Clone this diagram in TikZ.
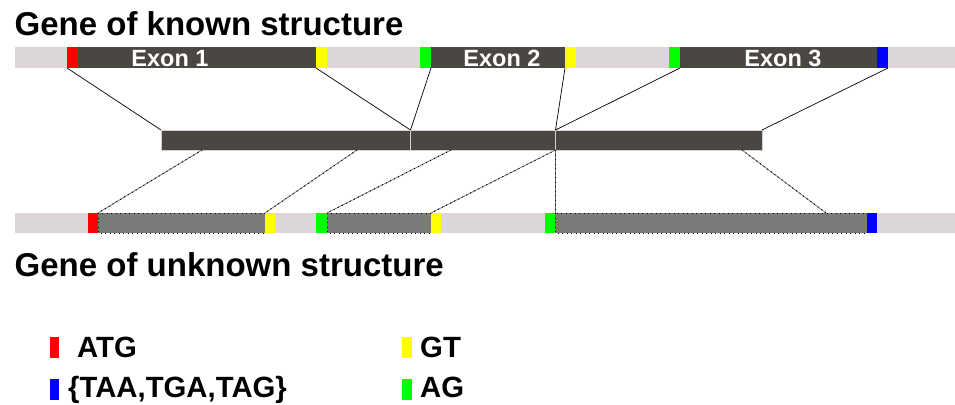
\documentclass[tikz,border=0pt]{standalone}
\usepackage{fontspec}
\setmainfont{Liberation Sans}
\definecolor{introncol}{RGB}{221,214,214}
\definecolor{exondark}{RGB}{74,70,66}
\definecolor{exongray}{RGB}{122,122,122}
\definecolor{atgcol}{RGB}{255,0,0}
\definecolor{gtcol}{RGB}{255,255,0}
\definecolor{agcol}{RGB}{0,255,0}
\definecolor{stopcol}{RGB}{0,0,255}
\tikzset{
  intronbar/.style={fill=introncol},
  knownexon/.style={fill=exondark},
  midexon/.style={fill=exondark, draw=gray!35, line width=0.6pt},
  unkexon/.style={fill=exongray, draw=black, line width=0.8pt, dash pattern=on 1pt off 3.5pt},
  topline/.style={draw=black, line width=0.7pt},
  botline/.style={draw=gray!85!black, line width=0.7pt, postaction={draw=black, line width=1pt, dash pattern=on 1pt off 3.5pt}},
  titletext/.style={anchor=base west, inner sep=0pt, font=\fontsize{33}{38}\selectfont\bfseries},
  exontext/.style={anchor=base, inner sep=0pt, text=white, font=\fontsize{23.5}{28}\selectfont\bfseries},
  legendtext/.style={anchor=base west, inner sep=0pt, font=\fontsize{29.3}{34}\selectfont\bfseries},
}
\begin{document}
\begin{tikzpicture}[x=1pt,y=-1pt]
\useasboundingbox (0,0) rectangle (955,404);
% titles
\node[titletext] (t1) at (14.5,36) {Gene of known structure};
\node[titletext] (t2) at (14.5,276) {Gene of unknown structure};
% top gene
\fill[intronbar] (15,47) rectangle (955,68);
\fill[knownexon] (78,47) rectangle (316,68);
\fill[knownexon] (431,47) rectangle (565,68);
\fill[knownexon] (680,47) rectangle (877,68);
\fill[atgcol] (67,47) rectangle (78,68);
\fill[gtcol] (316,47) rectangle (327,68);
\fill[agcol] (420,47) rectangle (431,68);
\fill[gtcol] (565,47) rectangle (576,68);
\fill[agcol] (669,47) rectangle (680,68);
\fill[stopcol] (877,47) rectangle (888,68);
\node[exontext] (e1) at (170,66.5) {Exon 1};
\node[exontext] (e2) at (502,66.5) {Exon 2};
\node[exontext] (e3) at (783,66.5) {Exon 3};
% middle (protein / mRNA)
\draw[midexon] (161,130) rectangle (410.5,150);
\draw[midexon] (410.5,130) rectangle (555.5,150);
\draw[midexon] (555.5,130) rectangle (762,150);
% bottom gene
\fill[intronbar] (15,213) rectangle (955,233);
\draw[unkexon] (98,213) rectangle (265,233);
\draw[unkexon] (327,213) rectangle (431,233);
\draw[unkexon] (555,213) rectangle (867,233);
\fill[atgcol] (88,213) rectangle (98,233);
\fill[gtcol] (265,213) rectangle (275,233);
\fill[agcol] (316,213) rectangle (327,233);
\fill[gtcol] (431,213) rectangle (441,233);
\fill[agcol] (545,213) rectangle (555,233);
\fill[stopcol] (867,213) rectangle (877,233);
% connector end points
\coordinate (a1) at (67,68);
\coordinate (a2) at (316,68);
\coordinate (a3) at (431,68);
\coordinate (a4) at (565,68);
\coordinate (a5) at (680,68);
\coordinate (a6) at (888,68);
\coordinate (m1) at (161,130);
\coordinate (m2) at (410.5,130);
\coordinate (m3) at (555.5,130);
\coordinate (m4) at (762,130);
\coordinate (n1) at (202,150);
\coordinate (n2) at (357,150);
\coordinate (n3) at (451,150);
\coordinate (n4) at (555.5,150);
\coordinate (n5) at (742,150);
\coordinate (b1) at (98,213);
\coordinate (b2) at (265,213);
\coordinate (b3) at (327,213);
\coordinate (b4) at (431,213);
\coordinate (b5) at (555.5,213);
\coordinate (b6) at (826,213);
% top connectors
\draw[topline] (a1) -- (m1);
\draw[topline] (a2) -- (m2);
\draw[topline] (a3) -- (m2);
\draw[topline] (a4) -- (m3);
\draw[topline] (a5) -- (m3);
\draw[topline] (a6) -- (m4);
% bottom connectors
\draw[botline] (n1) -- (b1);
\draw[botline] (n2) -- (b2);
\draw[botline] (n3) -- (b3);
\draw[botline] (n4) -- (b4);
\draw[botline] (n4) -- (b5);
\draw[botline] (n5) -- (b6);
% legend
\fill[atgcol] (50,337) rectangle (59,358);
\fill[stopcol] (50,379) rectangle (59,400);
\fill[gtcol] (402,337) rectangle (412,358);
\fill[agcol] (402,379) rectangle (412,400);
\node[legendtext] (l1) at (77,357) {ATG};
\node[legendtext] (l2) at (68,397) {\{TAA,TGA,TAG\}};
\node[legendtext] (l3) at (420,357) {GT};
\node[legendtext] (l4) at (420,397) {AG};
\end{tikzpicture}
\end{document}
